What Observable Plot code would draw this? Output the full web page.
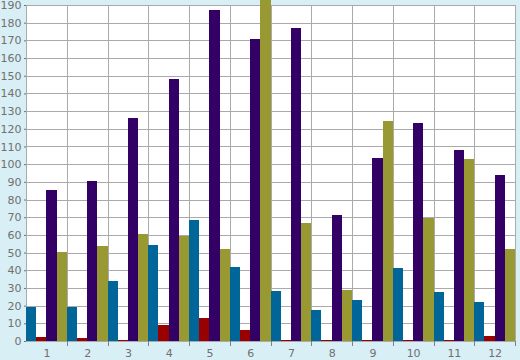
<!DOCTYPE html>
<html>
<head>
<meta charset="utf-8">
<script src="https://cdn.jsdelivr.net/npm/d3@7"></script>
<script src="https://cdn.jsdelivr.net/npm/@observablehq/plot@0.6"></script>
<style>
  html, body { margin: 0; padding: 0; background: #d9eff6; }
  #chart svg { display: block; background: #d9eff6; }
</style>
</head>
<body>
<div id="chart"></div>
<script>
const months = [1, 2, 3, 4, 5, 6, 7, 8, 9, 10, 11, 12];
const seriesNames = ["A", "B", "C", "D"];
const seriesColors = ["#006699", "#990000", "#330066", "#999933"];
const seriesA = [19, 19.5, 34, 54.5, 68.5, 42, 28.5, 17.5, 23, 41, 27.5, 22];
const seriesB = [2.5, 1.5, 0.8, 9.3, 12.8, 6.5, 0.4, 0.4, 0.4, 0.8, 0.4, 2.7];
const seriesC = [85.5, 90.3, 126, 148, 187, 170.7, 177, 71, 103.3, 123, 108, 93.7];
const seriesD = [50.5, 53.5, 60.3, 59.3, 51.8, 196, 66.5, 28.6, 124.3, 69.4, 102.8, 51.8];
const yTicks = [0, 10, 20, 30, 40, 50, 60, 70, 80, 90, 100, 110, 120, 130, 140, 150, 160, 170, 180, 190];

const allSeries = [seriesA, seriesB, seriesC, seriesD];
const data = [];
months.forEach((m, i) => {
  seriesNames.forEach((s, j) => {
    data.push({month: m, series: s, value: allSeries[j][i]});
  });
});

const W = 520, ML = 26, MR = 5;
const halfBand = (W - ML - MR) / months.length / 2;
const chart = Plot.plot({
  width: W,
  height: 360,
  marginLeft: ML,
  marginRight: MR,
  marginTop: 5,
  marginBottom: 19,
  style: {fontFamily: "DejaVu Sans", fontSize: "11px", color: "#707070", background: "#d9eff6"},
  fx: {domain: months, padding: 0, round: false, label: null},
  x: {domain: seriesNames, padding: 0, round: false, axis: null},
  y: {domain: [0, 190], ticks: yTicks, tickSize: 2, tickPadding: 3, label: null},
  color: {domain: seriesNames, range: seriesColors},
  marks: [
    Plot.frame({fill: "white", stroke: "#aaaaaa", shapeRendering: "crispEdges"}),
    Plot.ruleY(yTicks, {stroke: "#aaaaaa", shapeRendering: "crispEdges"}),
    Plot.barY(data, {fx: "month", x: "series", y: "value", fill: "series", inset: 0, shapeRendering: "crispEdges"}),
    Plot.axisFx({anchor: "bottom", tickSize: 0, tickPadding: 8, label: null}),
    Plot.axisFx({anchor: "bottom", text: null, tickSize: 5, dx: halfBand, stroke: "#808080", label: null, shapeRendering: "crispEdges"})
  ]
});
document.getElementById("chart").appendChild(chart);
</script>
</body>
</html>
